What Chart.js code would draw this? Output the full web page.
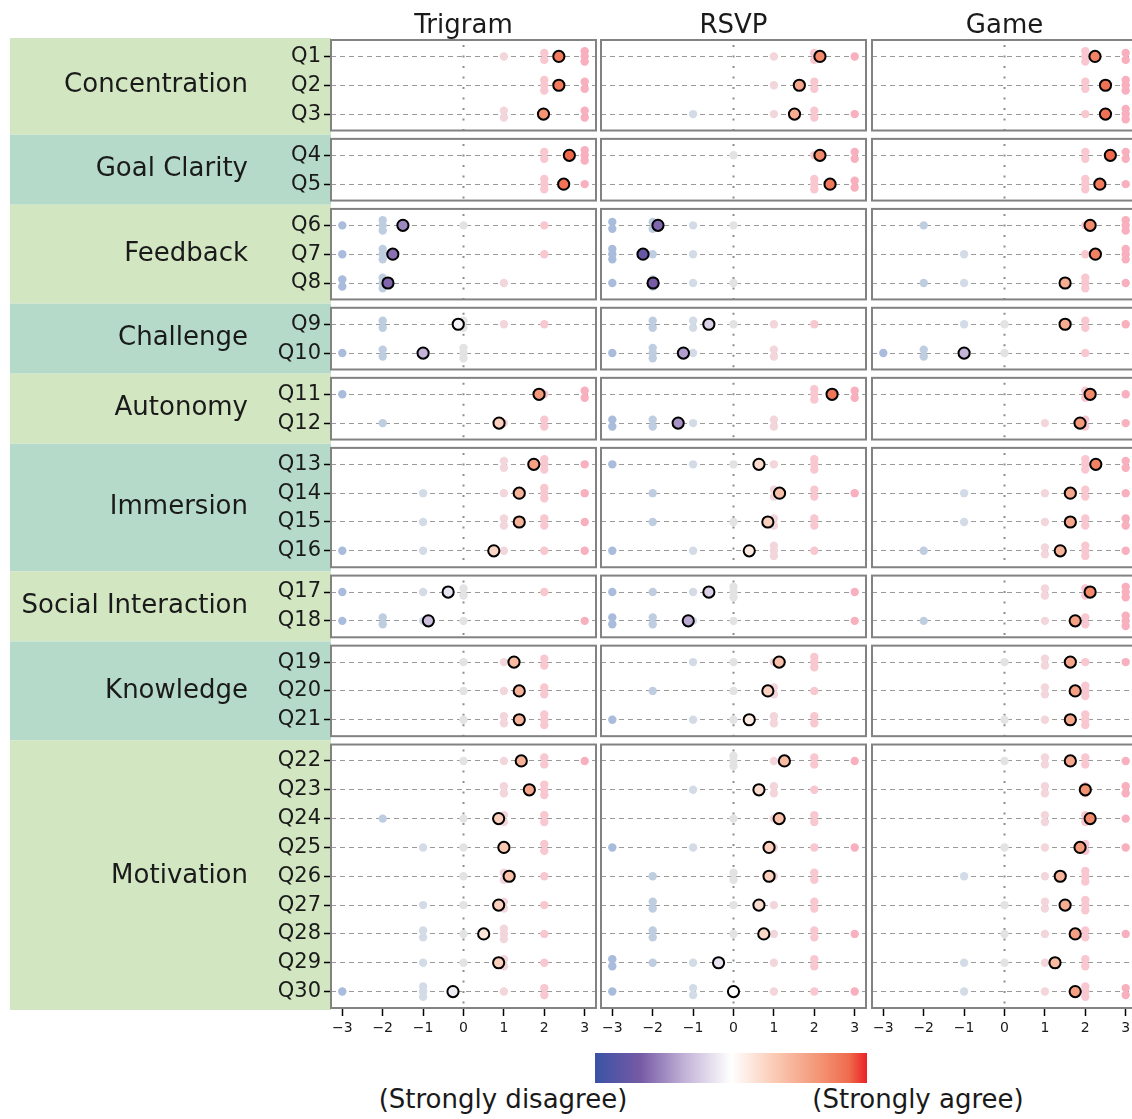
<!DOCTYPE html>
<html>
<head>
<meta charset="utf-8">
<script src="https://cdn.jsdelivr.net/npm/chart.js@4.4.1/dist/chart.umd.min.js"></script>
<style>
  html, body { margin: 0; padding: 0; background: #fff; }
  #wrap { position: relative; width: 1132px; height: 1119px; overflow: hidden; font-family: 'DejaVu Sans', sans-serif; }
  #wrap canvas { position: absolute; top: 0; }
  #bar { position: absolute; left: 595px; top: 1053px; width: 272px; height: 30px; }
  .lab { position: absolute; top: 1084px; font-size: 26px; line-height: 30px; color: #1a1a1a; transform: translateX(-50%); white-space: nowrap; }
</style>
</head>
<body>
<div id="wrap">
  <canvas id="c0" width="598" height="1042" style="left:0px"></canvas>
  <canvas id="c1" width="270" height="1042" style="left:598px"></canvas>
  <canvas id="c2" width="271" height="1042" style="left:868px"></canvas>
  <div id="bar"></div>
  <div class="lab" style="left:503px">(Strongly disagree)</div>
  <div class="lab" style="left:918px">(Strongly agree)</div>
</div>
<script>
const conditions = ['Trigram', 'RSVP', 'Game'];
const groupNames = ['Concentration', 'Goal Clarity', 'Feedback', 'Challenge', 'Autonomy',
  'Immersion', 'Social Interaction', 'Knowledge', 'Motivation'];
const groupSizes = [3, 2, 3, 2, 2, 4, 2, 3, 9];
const questions = ['Q1', 'Q2', 'Q3', 'Q4', 'Q5', 'Q6', 'Q7', 'Q8', 'Q9', 'Q10',
  'Q11', 'Q12', 'Q13', 'Q14', 'Q15', 'Q16', 'Q17', 'Q18', 'Q19', 'Q20',
  'Q21', 'Q22', 'Q23', 'Q24', 'Q25', 'Q26', 'Q27', 'Q28', 'Q29', 'Q30'];
const scaleValues = [-3, -2, -1, 0, 1, 2, 3];

// mean score per question
const meansTrigram = [2.36, 2.36, 1.98, 2.62, 2.48, -1.5, -1.75, -1.87, -0.13, -1.0,
  1.87, 0.88, 1.74, 1.38, 1.38, 0.75, -0.38, -0.87, 1.25, 1.38,
  1.38, 1.43, 1.63, 0.87, 1.0, 1.13, 0.87, 0.5, 0.87, -0.26];
const meansRSVP = [2.14, 1.63, 1.51, 2.14, 2.39, -1.87, -2.24, -1.99, -0.61, -1.24,
  2.44, -1.37, 0.63, 1.14, 0.85, 0.39, -0.61, -1.12, 1.13, 0.85,
  0.39, 1.26, 0.63, 1.13, 0.88, 0.88, 0.63, 0.75, -0.37, 0.0];
const meansGame = [2.24, 2.5, 2.5, 2.62, 2.36, 2.12, 2.25, 1.5, 1.5, -1.0,
  2.12, 1.87, 2.26, 1.63, 1.63, 1.38, 2.12, 1.75, 1.63, 1.75,
  1.63, 1.63, 2.0, 2.12, 1.87, 1.38, 1.5, 1.75, 1.25, 1.75];

// individual answers per question
const answersTrigram = [
  [1, 2, 2, 3, 3, 3], [2, 2, 2, 3, 3], [1, 1, 2, 3, 3], [2, 2, 3, 3, 3], [2, 2, 2, 3],
  [-3, -2, -2, -2, 0, 2], [-3, -2, -2, -2, 2], [-3, -3, -2, -2, -2, 1],
  [-2, -2, 0, 0, 1, 2], [-3, -2, -2, 0, 0, 0],
  [-3, 2, 3, 3], [-2, 1, 2, 2],
  [1, 1, 2, 2, 2, 3], [-1, 1, 2, 2, 2, 3], [-1, 1, 1, 2, 2, 3], [-3, -1, 1, 2, 3],
  [-3, -1, 0, 0, 2], [-3, -2, -2, -1, 0, 3],
  [0, 1, 2, 2], [0, 1, 2, 2], [0, 1, 1, 2, 2, 2],
  [0, 1, 2, 2, 3], [1, 1, 2, 2, 2], [-2, 0, 1, 1, 2, 2], [-1, 0, 1, 2, 2], [0, 1, 1, 2],
  [-1, 0, 1, 1, 2], [-1, -1, 0, 1, 1, 1, 2], [-1, 0, 1, 1, 2], [-3, -1, -1, -1, 1, 2, 2]
];
const answersRSVP = [
  [1, 2, 2, 3], [1, 2, 2], [-1, 1, 2, 2, 3], [0, 2, 3, 3], [2, 2, 2, 3, 3],
  [-3, -3, -2, -2, -1, 0], [-3, -3, -3, -2, -1], [-3, -2, -2, -1, 0],
  [-2, -2, -1, -1, 0, 1, 2], [-3, -2, -2, -2, -1, 1, 1],
  [2, 2, 2, 3, 3], [-3, -3, -2, -2, -1, 1, 1],
  [-3, -1, 0, 1, 2, 2, 2], [-2, 1, 1, 2, 2, 3], [-2, 0, 1, 1, 2, 2], [-3, -1, 1, 1, 1, 2],
  [-3, -2, -1, 0, 0, 0, 3], [-3, -3, -2, -2, -1, 0, 3],
  [-1, 0, 1, 2, 2, 2], [-2, 0, 1, 1, 2], [-3, -1, 0, 1, 1, 2, 2],
  [0, 0, 0, 1, 2, 2, 3], [-1, 1, 1, 2], [0, 1, 2, 2], [-3, -1, 1, 2, 3], [-2, 0, 0, 1, 2, 2],
  [-2, -2, 0, 1, 2, 2], [-2, -2, 0, 1, 2, 2, 3], [-3, -3, -2, -1, 1, 2, 2], [-3, -1, -1, 0, 1, 2, 3]
];
const answersGame = [
  [2, 2, 2, 3, 3], [2, 2, 3, 3, 3], [2, 3, 3, 3], [2, 2, 3, 3], [2, 2, 2, 3],
  [-2, 2, 3, 3, 3], [-1, 2, 3, 3, 3], [-2, -1, 2, 2, 2, 3],
  [-1, 0, 2, 2, 3], [-3, -2, -2, 0, 2],
  [2, 2, 3], [1, 2, 2, 3],
  [2, 2, 2, 3, 3], [-1, 1, 2, 2, 3], [-1, 1, 2, 2, 3, 3], [-2, 1, 1, 2, 2, 2, 3],
  [1, 1, 2, 2, 3, 3, 3], [-2, 1, 2, 2, 3, 3, 3],
  [0, 1, 1, 2, 3], [1, 1, 2, 2, 2], [0, 1, 2, 2, 2],
  [0, 1, 1, 2, 2, 3], [1, 1, 2, 2, 3, 3], [1, 1, 2, 2, 3], [0, 1, 2, 2, 3], [-1, 1, 2, 2, 2],
  [0, 1, 1, 2, 2, 2], [0, 1, 2, 2, 3], [-1, 0, 1, 2, 2], [-1, 1, 2, 2, 2, 3, 3]
];

const allMeans = [meansTrigram, meansRSVP, meansGame];
const allAnswers = [answersTrigram, answersRSVP, answersGame];

const FONT = "'DejaVu Sans', sans-serif";
const TEXT = '#1a1a1a';
const GREEN = '#d2e6c1';
const TEAL = '#b5dac9';
const dotColors = ['#a9bcdc', '#bfcde1', '#d3dce6', '#e3e3e3', '#f2d6db', '#f8c7d0', '#f8afbe'];
const colorStops = [
  [-3, [57, 83, 164]], [-2, [118, 90, 165]], [-1, [196, 180, 216]], [0, [255, 255, 255]],
  [1, [250, 200, 178]], [2, [243, 146, 114]], [2.6, [239, 108, 78]], [3, [236, 32, 36]]
];

function divergingColor(v) {
  for (let i = 0; i < colorStops.length - 1; i++) {
    const [a, ca] = colorStops[i], [b, cb] = colorStops[i + 1];
    if (v <= b || i === colorStops.length - 2) {
      const t = Math.max(0, Math.min(1, (v - a) / (b - a)));
      const c = ca.map((x, k) => Math.round(x + (cb[k] - x) * t));
      return `rgb(${c[0]},${c[1]},${c[2]})`;
    }
  }
}

// vertical layout in "row" units
const PANEL_GAP = 0.43;
const PAD = 0.57;
const qPos = [];
const panels = [];
let qi = 0;
groupSizes.forEach((n, g) => {
  const start = qi + g * PANEL_GAP;
  for (let k = 0; k < n; k++) qPos.push(start + k);
  panels.push({ top: start - PAD, bottom: start + n - 1 + PAD });
  qi += n;
});
const yMin = panels[0].top;
const yMax = panels[panels.length - 1].bottom;

function jitterOffsets(n) {
  if (n === 1) return [0];
  const spread = n === 2 ? 0.24 : 0.36;
  return Array.from({ length: n }, (_, k) => -spread / 2 + k * spread / (n - 1));
}

function dotPoints(answers) {
  const pts = [], cols = [];
  answers.forEach((list, q) => {
    scaleValues.forEach(v => {
      const n = list.filter(a => a === v).length;
      if (!n) return;
      jitterOffsets(n).forEach(o => {
        pts.push({ x: v, y: qPos[q] + o });
        cols.push(dotColors[v + 3]);
      });
    });
  });
  return { pts, cols };
}

function panelPlugin(col) {
  return {
    id: 'panels' + col,
    beforeDraw(chart) {
      if (col !== 0) return;
      const { ctx, chartArea, scales: { y } } = chart;
      ctx.save();
      panels.forEach((p, g) => {
        const t = y.getPixelForValue(p.top), b = y.getPixelForValue(p.bottom);
        const top = g === 0 ? t - 2 : (y.getPixelForValue(panels[g - 1].bottom) + t) / 2;
        const bot = g === panels.length - 1 ? b + 2 : (b + y.getPixelForValue(panels[g + 1].top)) / 2;
        ctx.fillStyle = g % 2 ? TEAL : GREEN;
        ctx.fillRect(10, top, chartArea.left - 10, bot - top);
        ctx.fillStyle = TEXT;
        ctx.font = `26px ${FONT}`;
        ctx.textAlign = 'right';
        ctx.textBaseline = 'middle';
        ctx.fillText(groupNames[g], 248, (t + b) / 2);
      });
      ctx.restore();
    },
    beforeDatasetsDraw(chart) {
      const { ctx, chartArea: a, scales: { x, y } } = chart;
      const x0 = x.getPixelForValue(0);
      ctx.save();
      panels.forEach(p => {
        const y1 = y.getPixelForValue(p.top), y2 = y.getPixelForValue(p.bottom);
        ctx.strokeStyle = '#8e8e8e';
        ctx.lineWidth = 2;
        ctx.setLineDash([2, 8.5]);
        ctx.beginPath();
        ctx.moveTo(x0, y1 + 5);
        ctx.lineTo(x0, y2);
        ctx.stroke();
        ctx.setLineDash([]);
        ctx.strokeStyle = '#828282';
        ctx.strokeRect(a.left, y1, a.right - a.left, y2 - y1);
      });
      ctx.fillStyle = TEXT;
      ctx.font = `26px ${FONT}`;
      ctx.textAlign = 'center';
      ctx.textBaseline = 'alphabetic';
      ctx.fillText(conditions[col], (a.left + a.right) / 2, 33);
      ctx.restore();
    }
  };
}

Chart.defaults.font.family = FONT;

function makeChart(col) {
  const first = col === 0;
  const means = allMeans[col];
  const dots = dotPoints(allAnswers[col]);
  new Chart(document.getElementById('c' + col), {
    type: 'scatter',
    data: {
      datasets: [
        {
          data: means.map((m, q) => ({ x: m, y: qPos[q] })),
          backgroundColor: means.map(divergingColor),
          borderColor: '#000',
          borderWidth: 2,
          pointRadius: 5.6,
          pointHoverRadius: 5.6
        },
        {
          data: dots.pts,
          backgroundColor: dots.cols,
          borderWidth: 0,
          pointRadius: 4.2,
          pointHoverRadius: 4.2
        }
      ]
    },
    options: {
      responsive: false,
      animation: false,
      events: [],
      layout: {
        autoPadding: false,
        padding: { top: 40, left: first ? 0 : (col === 1 ? 3 : 4), right: 2, bottom: 0 }
      },
      plugins: { legend: { display: false }, tooltip: { enabled: false } },
      scales: {
        x: {
          type: 'linear',
          min: -3.28,
          max: 3.28,
          afterBuildTicks: s => { s.ticks = scaleValues.map(v => ({ value: v })); },
          afterFit: s => { s.height = 34; s.paddingLeft = 0; s.paddingRight = 0; },
          grid: { drawOnChartArea: false, drawTicks: true, tickLength: 8, tickColor: '#000', tickWidth: 1.5 },
          border: { display: false },
          ticks: {
            padding: 4, color: TEXT, autoSkip: false, maxRotation: 0,
            font: { size: 14 },
            callback: v => (v < 0 ? '\u2212' + (-v) : '' + v)
          }
        },
        y: {
          type: 'linear',
          reverse: true,
          min: yMin,
          max: yMax,
          afterBuildTicks: s => { s.ticks = qPos.map(v => ({ value: v })); },
          afterFit: s => { s.width = first ? 331 : 0; s.paddingTop = 0; s.paddingBottom = 0; },
          grid: {
            color: '#9a9a9a', lineWidth: 1, drawTicks: first, tickLength: 7,
            tickColor: '#000', tickWidth: 1.5, tickBorderDash: []
          },
          border: { display: false, dash: [5, 4] },
          ticks: {
            display: first, autoSkip: false, padding: 3, color: TEXT,
            font: { size: 21 },
            callback: (v, i) => questions[i]
          }
        }
      }
    },
    plugins: [panelPlugin(col)]
  });
}

conditions.forEach((c, i) => makeChart(i));

document.getElementById('bar').style.background = 'linear-gradient(to right, ' +
  colorStops.map(([v, c]) => `rgb(${c.join(',')}) ${((v + 3) / 6 * 100).toFixed(1)}%`).join(', ') + ')';
</script>
</body>
</html>
